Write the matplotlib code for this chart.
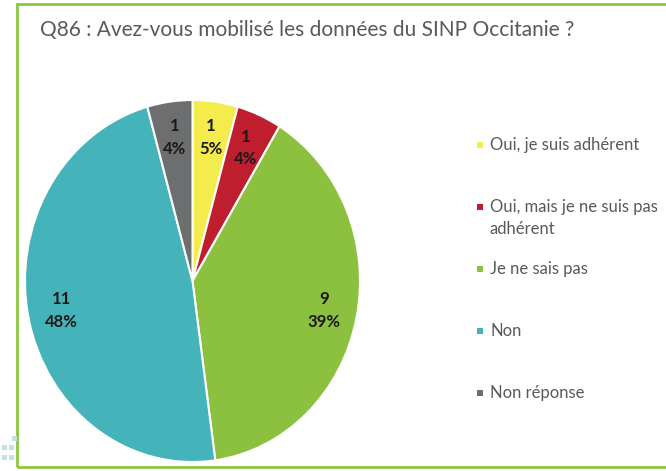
import matplotlib.pyplot as plt
from matplotlib.patches import Rectangle

categories = ["Oui, je suis adhérent", "Oui, mais je ne suis pas\nadhérent",
              "Je ne sais pas", "Non", "Non réponse"]
counts = [1, 1, 9, 11, 1]
percents = [5, 4, 39, 48, 4]
colors = ["#F4EC4C", "#BE1E2D", "#8CC03F", "#45B4BA", "#6D6E6F"]
title = "Q86 : Avez-vous mobilisé les données du SINP Occitanie ?"

W, H = 666, 471
fig = plt.figure(figsize=(W / 100, H / 100), dpi=100)
fig.patch.set_facecolor("white")

# green frame around the chart
frame = Rectangle((17 / W, 4 / H), 700 / W, 463 / H, transform=fig.transFigure,
                  fill=False, edgecolor="#8DC63F", linewidth=2)
fig.add_artist(frame)

# faint decorative squares bottom-left (background)
for (x, y) in [(2, 445), (9, 445), (2, 455), (9, 455), (12, 436)]:
    fig.add_artist(Rectangle((x / W, 1 - (y + 5) / H), 5 / W, 5 / H,
                             transform=fig.transFigure, color="#C5DFE6", lw=0))

fig.text(40 / W, 1 - 30 / H, title, fontsize=15, color="#595959",
         family="Lato", va="center", ha="left")

# pie (slightly taller than wide, like the reference)
ax = fig.add_axes([25 / W, 9 / H, 335 / W, 362 / H])
labels = [f"{c}\n{p}%" for c, p in zip(counts, percents)]
wedges, texts = ax.pie(counts, colors=colors, startangle=90, counterclock=False,
                       labels=labels, labeldistance=0.8,
                       wedgeprops=dict(edgecolor="white", linewidth=1.5),
                       textprops=dict(fontsize=12, fontweight="bold", family="Lato",
                                      color="#1a1a1a", linespacing=1.5))
for t in texts:
    t.set_ha("center")
    t.set_va("center")
ax.set_aspect("auto")
ax.set_xlim(-1, 1)
ax.set_ylim(-1, 1)
ax.axis("off")

# legend
y0, step = 145, 62
for i, (lab, col) in enumerate(zip(categories, colors)):
    y = y0 + i * step
    fig.add_artist(Rectangle((477 / W, 1 - (y + 3) / H), 6 / W, 6 / H,
                             transform=fig.transFigure, color=col, lw=0))
    fig.text(490 / W, 1 - (y - 8) / H, lab, fontsize=12, color="#595959",
             family="Lato", va="top", ha="left", linespacing=1.5)

fig.savefig("out.png", dpi=100)
